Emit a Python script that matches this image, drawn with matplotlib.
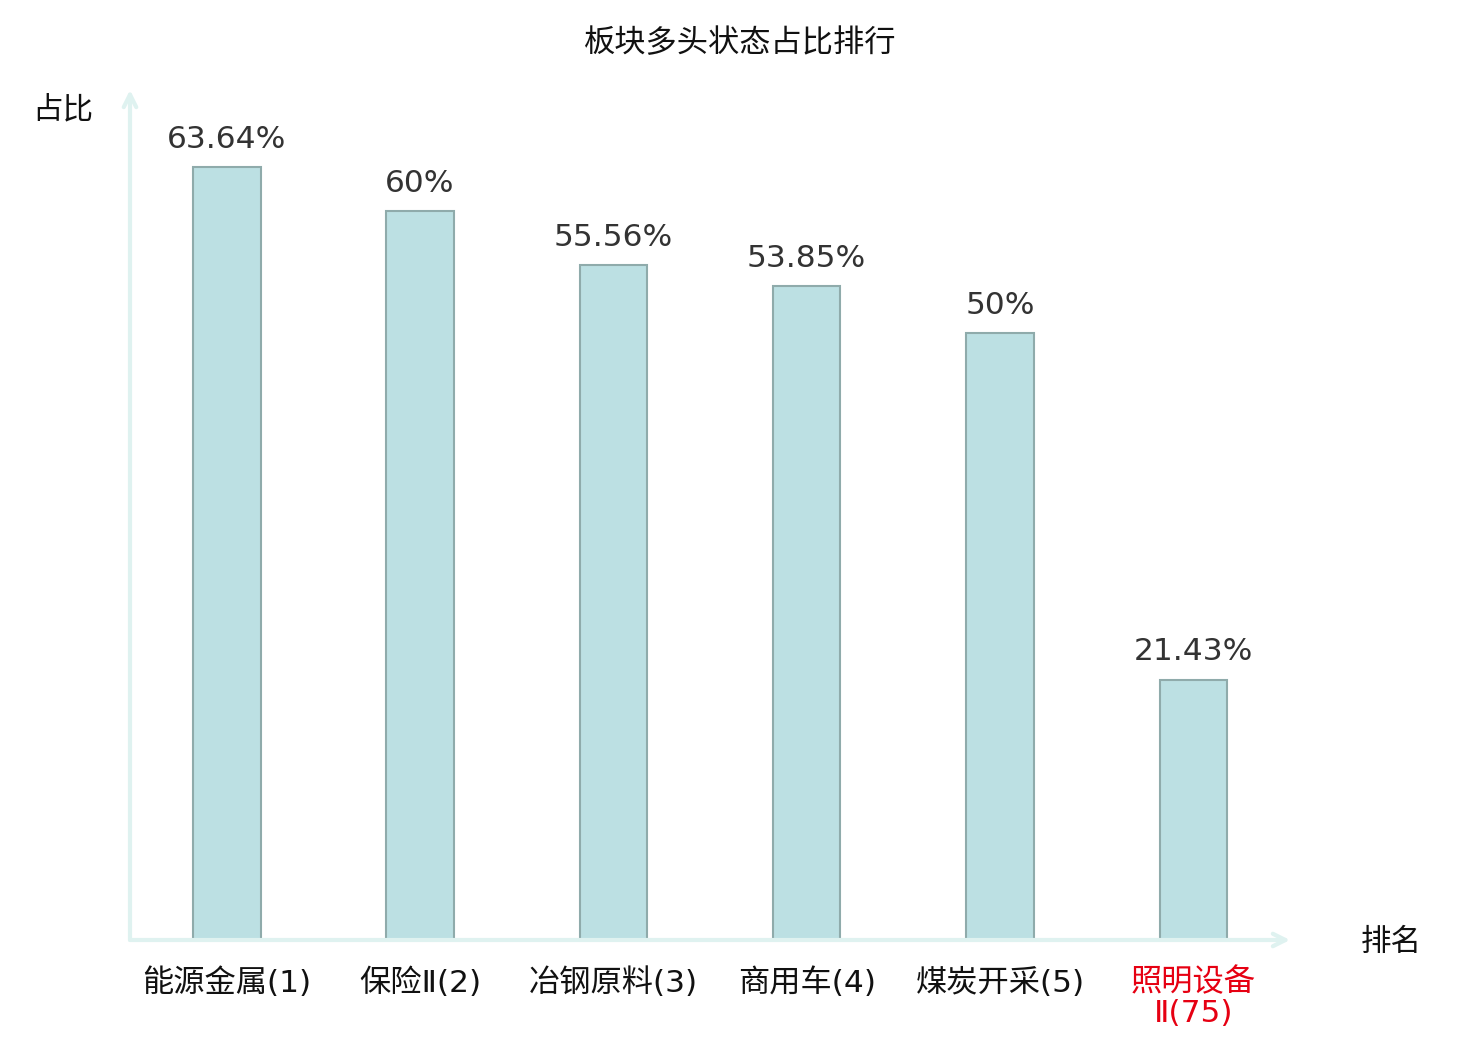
import matplotlib
matplotlib.use("Agg")
import matplotlib.pyplot as plt

plt.rcParams['font.family'] = ['Noto Sans CJK SC', 'DejaVu Sans']

# Data
categories = ["能源金属(1)", "保险Ⅱ(2)", "冶钢原料(3)", "商用车(4)", "煤炭开采(5)", "照明设备\nⅡ(75)"]
values = [63.64, 60, 55.56, 53.85, 50, 21.43]
value_labels = ["63.64%", "60%", "55.56%", "53.85%", "50%", "21.43%"]
highlight = [False, False, False, False, False, True]

fig = plt.figure(figsize=(14.8, 10.4), dpi=100)
ax = fig.add_axes([130 / 1480, 100 / 1040, 1160 / 1480, 850 / 1040])

x = list(range(len(categories)))
ax.bar(x, values, width=0.35, color="#bce0e3", edgecolor="#8fabab", linewidth=1.5, zorder=3)

for xi, v, lab in zip(x, values, value_labels):
    ax.text(xi, v + 1.1, lab, ha="center", va="bottom", fontsize=22.5,
            color="#333333", family=['DejaVu Sans'])

ax.set_xlim(-0.5, 5.5)
ax.set_ylim(0, 70)

for s in ax.spines.values():
    s.set_visible(False)
ax.set_yticks([])
ax.set_xticks(x)
ax.set_xticklabels(categories, fontsize=22.5, family=['DejaVu Sans', 'Noto Sans CJK SC'])
ax.tick_params(axis="x", length=0, pad=20)
for lbl, h in zip(ax.get_xticklabels(), highlight):
    lbl.set_color("#e60012" if h else "#111111")
    lbl.set_linespacing(1.05)

# axis arrows
axis_color = "#dff2f0"
ax.annotate("", xy=(5.5, 0), xytext=(-0.5, 0), xycoords="data",
            arrowprops=dict(arrowstyle="->,head_length=0.9,head_width=0.45",
                            color=axis_color, lw=3, shrinkA=0, shrinkB=0),
            annotation_clip=False)
ax.annotate("", xy=(-0.5, 70), xytext=(-0.5, 0), xycoords="data",
            arrowprops=dict(arrowstyle="->,head_length=0.9,head_width=0.45",
                            color=axis_color, lw=3, shrinkA=0, shrinkB=0),
            annotation_clip=False)

fig.text(63 / 1480, 1 - 110 / 1040, "占比", ha="center", va="center", fontsize=22, color="#111111")
fig.text(1391 / 1480, 1 - 942 / 1040, "排名", ha="center", va="center", fontsize=22, color="#111111")
fig.text(740 / 1480, 1 - 43 / 1040, "板块多头状态占比排行", ha="center", va="center", fontsize=22.5, color="#111111")

fig.savefig("out.png", dpi=100)
